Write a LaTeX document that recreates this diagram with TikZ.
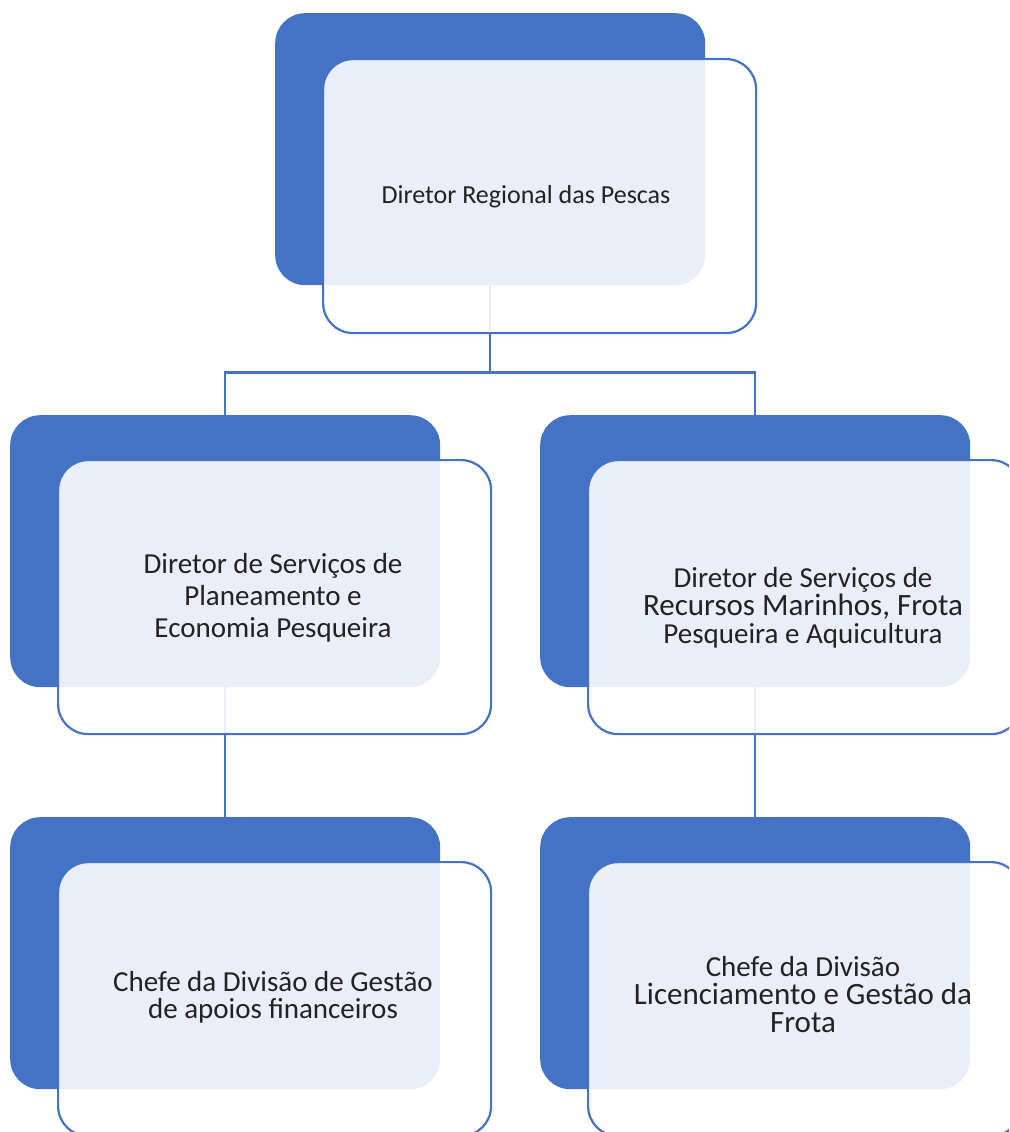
\documentclass[tikz,border=0pt]{standalone}
\usepackage{fontspec}
\setmainfont{Carlito}
\definecolor{accent}{HTML}{4472C4}
\definecolor{txt}{HTML}{222222}
\newcommand{\bigln}{\fontsize{31}{28}\selectfont}
\begin{document}
\begin{tikzpicture}[x=1pt,y=-1pt,
  back/.style={fill=accent, draw=none, rounded corners=30pt, inner sep=0pt,
    minimum width=430pt, minimum height=272pt, anchor=north west},
  front/.style={draw=accent, line width=2.2pt, fill=white, fill opacity=0.885,
    rounded corners=30pt, inner sep=0pt, minimum width=433pt, minimum height=274pt,
    anchor=north west},
  lbl/.style={text=txt, align=center, font=\fontsize{29}{28}\selectfont},
  link/.style={draw=accent, line width=2.2pt}]
\useasboundingbox (0,0) rectangle (1009,1132);
\clip (0,0) rectangle (1009,1132);
% back boxes
\node[back] (tb) at (275,13) {};
\node[back] (ml) at (10,415) {};
\node[back] (mr) at (540,415) {};
\node[back] (bl) at (10,817) {};
\node[back] (br) at (540,817) {};
% connectors
\draw[link] (tb.south) -- ++(0,87) coordinate (j);
\draw[link] (ml.north) |- (j) -| (mr.north);
\draw[link] (ml.south) -- (bl.north);
\draw[link] (mr.south) -- (br.north);
% front boxes
\node[front] (tf) at (322,58) {};
\node[front] (mlf) at (57,459) {};
\node[front] (mrf) at (587,459) {};
\node[front] (blf) at (57,861) {};
\node[front] (brf) at (587,861) {};
% texts
\node[lbl, font=\fontsize{26}{28}\selectfont] (tt) at (526,197) {Diretor Regional das Pescas};
\node[lbl, font=\fontsize{29}{32}\selectfont] (mlt) at (273,598) {Diretor de Serviços de\\Planeamento e\\Economia Pesqueira};
\node[lbl] (mrt) at (803,608) {Diretor de Serviços de\\\bigln Recursos Marinhos, Frota\\\fontsize{29}{28}\selectfont Pesqueira e Aquicultura};
\node[lbl, font=\fontsize{29}{27}\selectfont] (blt) at (273,997) {Chefe da Divisão de Gestão\\de apoios financeiros};
\node[lbl] (brt) at (803,995) {Chefe da Divisão\\\bigln Licenciamento e Gestão da\\\bigln Frota};
\end{tikzpicture}
\end{document}
